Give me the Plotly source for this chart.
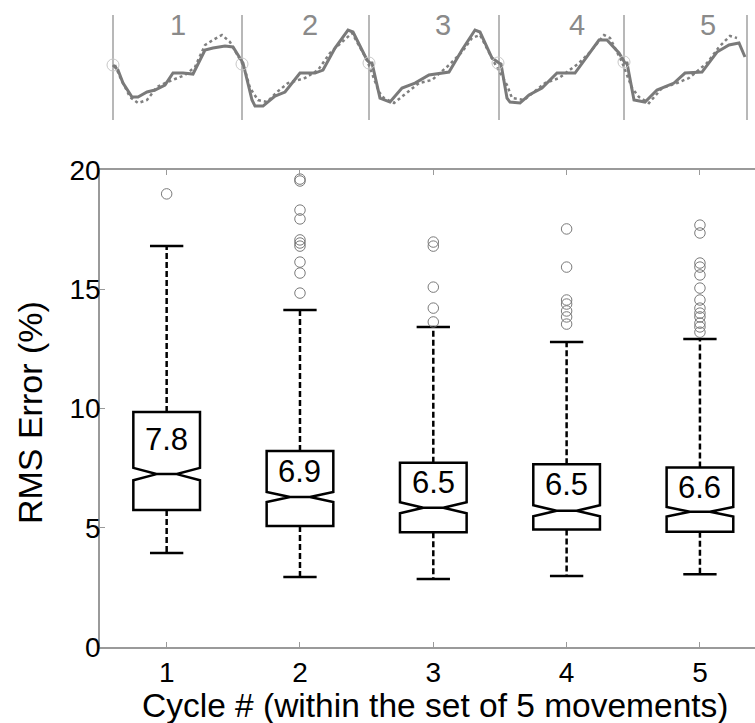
import plotly.graph_objects as go

# ---------------- data: box plot (RMS error %) ----------------
cycles = [1, 2, 3, 4, 5]
q1 = [5.74, 5.07, 4.81, 4.93, 4.83]
median = [7.25, 6.29, 5.84, 5.71, 5.67]
q3 = [9.85, 8.22, 7.73, 7.66, 7.53]
lower_whisker = [3.94, 2.93, 2.85, 2.98, 3.05]
upper_whisker = [16.81, 14.13, 13.42, 12.79, 12.91]
notch_span = [0.26, 0.21, 0.23, 0.23, 0.20]
mean_labels = ["7.8", "6.9", "6.5", "6.5", "6.6"]
outliers = {
    1: [19.0],
    2: [19.62, 19.54, 18.32, 17.95, 17.07, 16.94, 16.81, 16.14, 15.68, 14.84],
    3: [16.98, 16.81, 15.09, 14.21, 13.63],
    4: [17.53, 15.93, 14.55, 14.38, 14.09, 13.84, 13.54],
    5: [17.69, 17.36, 16.10, 15.93, 15.60, 15.05, 14.55, 14.21, 14.00, 13.84,
        13.58, 13.42, 13.20],
}
y_ticks = [0, 5, 10, 15, 20]
x_title = "Cycle # (within the set of 5 movements)"
y_title = "RMS Error (%)"

# ---------------- data: example waveform (top strip) ----------------
# sample index, amplitude (arbitrary units)
solid_t = [0, 5, 10, 19, 25, 34, 42, 52, 60, 70, 80, 92, 100, 112, 120, 129,
           130, 139, 142, 150, 162, 172, 187, 202, 210, 222, 235, 240, 254, 257,
           259, 267, 277, 289, 302, 316, 336, 349, 362, 367, 379, 386,
           388, 394, 397, 407, 416, 429, 444, 462, 476, 486, 494, 506, 512,
           514, 521, 532, 544, 561, 572, 589, 604, 616, 626, 632]
solid_a = [45, 40, 27, 13, 13, 18, 20, 25, 37, 37, 36, 60, 62, 64, 63, 48,
           47, 10, 4, 4, 14, 18, 37, 37, 40, 62, 80, 78, 50, 47,
           47, 12, 8, 22, 27, 35, 38, 60, 80, 78, 52, 47,
           46, 12, 8, 7, 15, 22, 37, 37, 57, 70, 70, 57, 47,
           47, 10, 8, 20, 27, 37, 38, 58, 65, 67, 53]
dotted_t = [2, 7, 12, 17, 25, 34, 44, 52, 62, 72, 82, 92, 100, 109, 117, 129,
            132, 137, 145, 154, 164, 175, 192, 205, 217, 229, 239, 254,
            266, 271, 281, 291, 306, 319, 336, 349, 359, 367, 381,
            394, 399, 411, 421, 432, 446, 466, 477, 491, 497, 509,
            519, 526, 536, 549, 564, 576, 594, 606, 617, 624]
dotted_a = [45, 33, 23, 13, 7, 10, 23, 27, 31, 35, 43, 65, 70, 75, 68, 47,
            40, 22, 10, 8, 18, 27, 32, 40, 57, 68, 77, 50,
            18, 12, 7, 15, 27, 30, 45, 58, 72, 75, 48,
            25, 12, 10, 18, 27, 32, 47, 58, 75, 72, 48,
            22, 13, 7, 22, 27, 32, 47, 63, 74, 72]
cycle_start_t = [0, 129, 256, 385, 511]
cycle_start_a = [45, 46, 47, 47, 48]
cycle_bounds = [0, 129, 256, 386, 511, 634]
cycle_label_t = [65, 197, 330, 464, 595]
cycle_names = ["1", "2", "3", "4", "5"]

FONT = "Liberation Sans, Arial, Helvetica, sans-serif"
GRAY_AX = "#9a9a9a"

fig = go.Figure()

# boxes (whiskers drawn separately so they can be dashed)
fig.add_trace(go.Box(
    x=cycles, q1=q1, median=median, q3=q3,
    lowerfence=q1, upperfence=q3,
    notched=True, notchspan=notch_span, notchwidth=0.35,
    width=0.5, whiskerwidth=0,
    fillcolor="white", line=dict(color="black", width=2.5),
    boxpoints=False, showlegend=False, hoverinfo="skip",
))

wx, wy, cx, cy = [], [], [], []
for i, c in enumerate(cycles):
    wx += [c, c, None, c, c, None]
    wy += [q3[i], upper_whisker[i], None, q1[i], lower_whisker[i], None]
    cx += [c - 0.125, c + 0.125, None, c - 0.125, c + 0.125, None]
    cy += [upper_whisker[i], upper_whisker[i], None,
           lower_whisker[i], lower_whisker[i], None]
fig.add_trace(go.Scatter(x=wx, y=wy, mode="lines",
                         line=dict(color="black", width=2.5, dash="6px,3px"),
                         showlegend=False, hoverinfo="skip"))
fig.add_trace(go.Scatter(x=cx, y=cy, mode="lines",
                         line=dict(color="black", width=2.5),
                         showlegend=False, hoverinfo="skip"))

ox, oy = [], []
for c in cycles:
    ox += [c] * len(outliers[c])
    oy += outliers[c]
fig.add_trace(go.Scatter(x=ox, y=oy, mode="markers",
                         marker=dict(symbol="circle-open", size=10.5,
                                     color="#7a7a7a", line=dict(width=1)),
                         showlegend=False, hoverinfo="skip"))

for i, c in enumerate(cycles):
    ly = (median[i] + notch_span[i] + q3[i]) / 2
    fig.add_annotation(x=c, y=ly, xref="x", yref="y", text=mean_labels[i],
                       showarrow=False,
                       font=dict(family=FONT, size=31, color="black"))

# ---------------- top strip ----------------
bx, by = [], []
for b in cycle_bounds:
    bx += [b, b, None]
    by += [95, -10, None]
fig.add_trace(go.Scatter(x=bx, y=by, xaxis="x2", yaxis="y2", mode="lines",
                         line=dict(color="#a0a0a0", width=1.5),
                         showlegend=False, hoverinfo="skip"))
fig.add_trace(go.Scatter(x=dotted_t, y=dotted_a, xaxis="x2", yaxis="y2",
                         mode="lines",
                         line=dict(color="#808080", width=2.5, dash="dot"),
                         showlegend=False, hoverinfo="skip"))
fig.add_trace(go.Scatter(x=solid_t, y=solid_a, xaxis="x2", yaxis="y2",
                         mode="lines",
                         line=dict(color="#7a7a7a", width=3),
                         showlegend=False, hoverinfo="skip"))
fig.add_trace(go.Scatter(x=cycle_start_t, y=cycle_start_a, xaxis="x2",
                         yaxis="y2", mode="markers",
                         marker=dict(symbol="circle-open", size=12,
                                     color="#c8c8c8", line=dict(width=1)),
                         showlegend=False, hoverinfo="skip"))
for t, n in zip(cycle_label_t, cycle_names):
    fig.add_annotation(x=t, y=85, xref="x2", yref="y2", text=n,
                       showarrow=False,
                       font=dict(family=FONT, size=29, color="#8a8a8a"))

# axis titles
fig.add_annotation(x=0.512, y=-0.091, xref="paper", yref="paper",
                   text=x_title, showarrow=False, xanchor="center",
                   yanchor="middle", font=dict(family=FONT, size=33.5))
fig.add_annotation(x=-0.107, y=0.363, xref="paper", yref="paper",
                   text=y_title, showarrow=False, textangle=-90,
                   xanchor="center", yanchor="middle",
                   font=dict(family=FONT, size=34))

fig.update_layout(
    width=755, height=723,
    margin=dict(l=100, r=0, t=0, b=76, autoexpand=False),
    paper_bgcolor="white", plot_bgcolor="white",
    font=dict(family=FONT, color="black"),
    showlegend=False,
    xaxis=dict(domain=[0, 1], range=[0.5, 5.413], tickvals=cycles,
               ticks="inside", ticklen=5, tickcolor=GRAY_AX, tickwidth=1.2,
               showline=True, linecolor=GRAY_AX, linewidth=1.5,
               mirror="ticks", showgrid=False, zeroline=False,
               tickfont=dict(size=28), automargin=False),
    yaxis=dict(domain=[0, 0.7372], range=[0, 20], tickvals=y_ticks,
               ticks="inside", ticklen=5, tickcolor=GRAY_AX, tickwidth=1.2,
               showline=True, linecolor=GRAY_AX, linewidth=1.5,
               showgrid=False, zeroline=False, ticklabelstandoff=-8,
               tickfont=dict(size=28), automargin=False),
    xaxis2=dict(domain=[0, 1], anchor="y2", range=[-13, 642], visible=False),
    yaxis2=dict(domain=[0.799, 1], anchor="x2", range=[-20, 110],
                visible=False),
)

fig.write_html("out.html")
